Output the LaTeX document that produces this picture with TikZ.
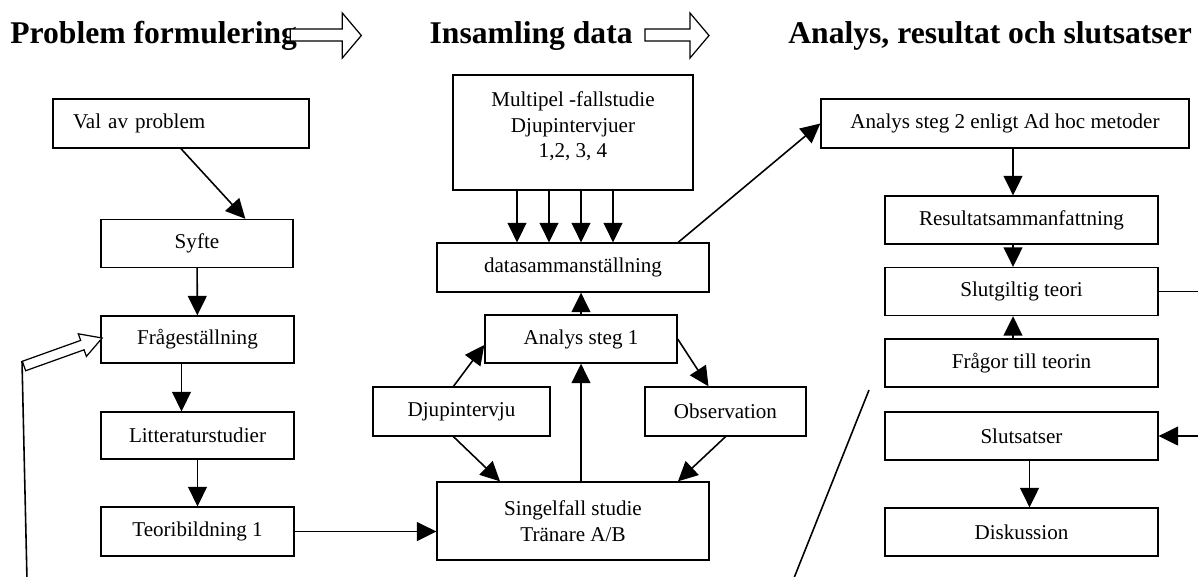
\documentclass[tikz,border=0pt]{standalone}
\usepackage{fontspec}
\setmainfont{Liberation Serif}
\usetikzlibrary{calc,shapes,arrows.meta}

\begin{document}
\begin{tikzpicture}[x=0.02cm,y=-0.02cm,
    box/.style={draw, line width=0.8pt, rectangle, inner sep=0pt, minimum height=0.96cm,
      align=center, font=\fontsize{12}{14.5}\selectfont},
    arr/.style={-{Triangle[length=0.39cm,width=0.38cm]}, line width=0.9pt},
    heading/.style={inner sep=0pt, font=\fontsize{18}{20}\selectfont\bfseries},
    hollow/.style={draw, line width=0.7pt, fill=white}]
  \useasboundingbox (0,0) rectangle (1198,576);

  % rubriker
  \node[heading, anchor=base west] (h1) at (10,43) {Problem formulering};
  \node[heading, anchor=base east] (h2) at (633,43) {Insamling data};
  \node[heading, anchor=base west] (h3) at (788,43) {Analys, resultat och slutsatser};
  \draw[hollow] ($(h1.base east)+(-7,-14)$) -- ++(52,0) -- ++(0,-16) -- ++(19,22.5)
    -- ++(-19,22.5) -- ++(0,-17) -- ++(-52,0) -- cycle;
  \draw[hollow] ($(h2.base east)+(12,-14)$) -- ++(45,0) -- ++(0,-16) -- ++(19,22.5)
    -- ++(-19,22.5) -- ++(0,-17) -- ++(-45,0) -- cycle;

  % problem formulering
  \node[box, text width=4.32cm, inner xsep=0.4cm, align=left, minimum height=0.98cm] (val) at (181,123.5) {Val av problem};
  \node[box, minimum width=3.84cm] (syfte) at (197,243.5) {Syfte};
  \node[box, minimum width=3.86cm, minimum height=0.94cm] (fraga) at (197.5,339.5) {Frågeställning};
  \node[box, minimum width=3.86cm, minimum height=0.94cm] (litt) at (197.5,435.5) {Litteraturstudier};
  \node[box, minimum width=3.86cm, minimum height=0.98cm] (teori1) at (197.5,531.5) {Teoribildning 1};

  % insamling data
  \node[box, minimum width=4.8cm, minimum height=2.3cm] (multipel) at (573,132.5)
    {Multipel -fallstudie\\Djupintervjuer\\1,2, 3, 4\\[-0.2cm]\mbox{}};
  \node[box, minimum width=5.44cm, minimum height=0.98cm] (data) at (573,267.5) {datasammanställning};
  \node[box, minimum width=3.84cm] (analys1) at (581,339) {Analys steg 1};
  \node[box, minimum width=3.54cm, minimum height=0.98cm] (djup) at (461.5,411.5) {Djupintervju};
  \node[box, minimum width=3.22cm, minimum height=0.98cm] (obs) at (725.5,411.5) {Observation};
  \node[box, minimum width=5.44cm, minimum height=1.56cm] (singel) at (573,521) {Singelfall studie\\Tränare A/B};

  % analys, resultat och slutsatser
  \node[box, minimum width=7.36cm, minimum height=0.98cm] (analys2) at (1005,123.5) {Analys steg 2 enligt Ad hoc metoder};
  \node[box, minimum width=5.46cm] (resultat) at (1021.5,220) {Resultatsammanfattning};
  \node[box, minimum width=5.46cm] (slut) at (1021.5,291.5) {Slutgiltig teori};
  \node[box, minimum width=5.46cm] (fragor) at (1021.5,363) {Frågor till teorin};
  \node[box, minimum width=5.46cm] (slutsats) at (1021.5,436) {Slutsatser};
  \node[box, minimum width=5.46cm] (disk) at (1021.5,532) {Diskussion};

  \coordinate (kant1) at (1200,291.5);
  \coordinate (kant2) at (1200,436);
  \coordinate (snedA) at (869,390);
  \coordinate (snedB) at (794,578);
  \coordinate (bottenA) at (27,580);
  \coordinate (bottenB) at (22,361);

  % pilar vänster
  \draw[arr] (val.south) -- ($(syfte.north)!0.5!(syfte.north east)$);
  \draw[arr] (syfte) -- (fraga);
  \draw[arr] ($(fraga.south)+(-16,0)$) -- ($(litt.north)+(-16,0)$);
  \draw[arr] (litt) -- (teori1);
  \draw[arr] (teori1.east) -- (teori1.east -| singel.west);

  % pilar mitten
  \foreach \dx in {-56,-24,8,40}
    \draw[arr] ($(multipel.south)+(\dx,0)$) -- ($(data.north)+(\dx,0)$);
  \draw[arr] ($(data.north)!0.77!(data.north east)$) -- (analys2.west);
  \draw[arr] (analys1.north) -- (analys1.north |- data.south);
  \draw[arr] ($(djup.north)+(-8,0)$) -- ($(analys1.west)+(0,6)$);
  \draw[arr] (analys1.east) -- ($(obs.north)+(-17,0)$);
  \draw[arr] ($(djup.south)+(-8,0)$) -- ($(singel.north)+(-73,0)$);
  \draw[arr] (obs.south) -- ($(singel.north)+(105,0)$);
  \draw[arr] (analys1.south |- singel.north) -- (analys1.south);

  % pilar höger
  \draw[arr] ($(analys2.south)+(8,0)$) -- ($(resultat.north)+(-8.5,0)$);
  \draw[arr] ($(resultat.south)+(-8.5,0)$) -- ($(slut.north)+(-8.5,0)$);
  \draw[arr] ($(fragor.north)+(-8.5,0)$) -- ($(slut.south)+(-8.5,0)$);
  \draw[arr] ($(slutsats.south)+(8,0)$) -- ($(disk.north)+(8,0)$);
  \draw[line width=0.9pt] (slut.east) -- (kant1);
  \draw[arr] (kant2) -- (slutsats.east);
  \draw[line width=0.9pt] (snedA) -- (snedB);

  % återkoppling
  \draw[line width=0.9pt] (bottenA) -- (bottenB);
  \begin{scope}[shift={(24,366)}, rotate=19.7]
    \draw[hollow] (0,5) -- (62,5) -- (62,12) -- (83,0) -- (62,-12) -- (62,-5) -- (0,-5) -- cycle;
  \end{scope}
\end{tikzpicture}
\end{document}
